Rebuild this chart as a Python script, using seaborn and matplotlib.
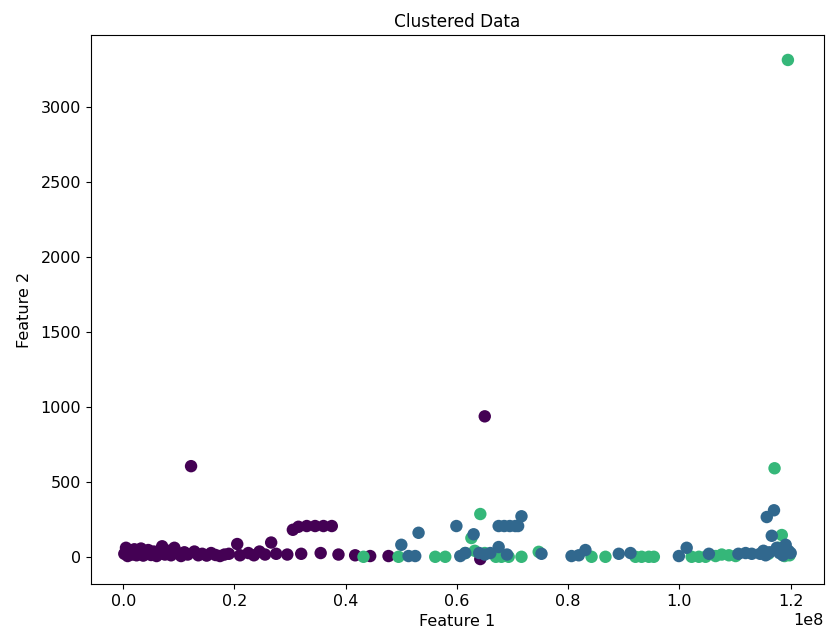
import numpy as np
import pandas as pd
import matplotlib
matplotlib.use("Agg")
import matplotlib.pyplot as plt
import seaborn as sns

# Feature 1 values are in millions (converted to raw units below), Feature 2 raw.
purple_f1 = [0.2, 0.5, 0.8, 1.2, 1.6, 2.0, 2.4, 2.8, 3.2, 3.6, 4.0, 4.5, 5.0, 5.5,
             6.0, 6.5, 7.0, 7.5, 8.0, 8.6, 9.2, 9.8, 10.4, 11.0, 11.6, 12.2, 12.8,
             13.5, 14.2, 15.0, 15.8, 16.6, 17.4, 18.2, 19.0, 20.5, 21.0, 22.5,
             23.5, 24.5, 25.5, 26.6, 27.5, 29.5, 30.5, 31.5, 32.0, 33.0, 34.5,
             35.5, 36.0, 37.5, 38.7, 41.7, 44.4, 47.7, 64.2, 65.0]
purple_f2 = [20, 60, 5, 40, 15, 50, 10, 30, 55, 8, 25, 45, 12, 35,
             5, 20, 70, 15, 40, 10, 60, 25, 5, 30, 15, 604, 35,
             10, 20, 8, 25, 12, 5, 15, 20, 85, 10, 25,
             10, 35, 15, 95, 20, 15, 180, 200, 20, 205, 205,
             25, 205, 205, 15, 10, 5, 5, -15, 936]

blue_f1 = [50.0, 51.3, 52.5, 53.1, 59.9, 60.6, 61.5, 63.0, 64.0, 65.0, 66.0,
           67.5, 67.5, 68.5, 69.5, 70.5, 71.0, 71.6, 69.0, 75.2, 80.6, 81.9,
           83.1, 89.1, 91.2, 99.9, 101.3, 105.3, 110.6, 111.9, 113.0, 114.5,
           115.1, 115.5, 115.7, 116.2, 116.6, 117.0, 117.5, 118.0, 118.6,
           119.1, 119.6, 120.0]
blue_f2 = [80, 5, 5, 160, 205, 5, 25, 150, 25, 15, 25,
           65, 205, 205, 205, 205, 205, 270, 15, 20, 5, 10,
           45, 20, 25, 5, 60, 20, 20, 25, 20, 20,
           40, 10, 265, 30, 140, 310, 60, 25, 10,
           80, 40, 25]

green_f1 = [43.2, 49.5, 56.1, 57.9, 61.5, 62.6, 63.2, 64.2, 65.0, 67.0, 68.0,
            69.3, 71.6, 74.7, 84.2, 86.7, 92.1, 93.2, 94.5, 95.4, 102.2, 103.5,
            104.7, 106.5, 107.6, 108.9, 110.1, 116.0, 117.1, 117.8, 118.4,
            118.9, 119.3, 119.5, 119.8]
green_f2 = [0, 0, 0, 0, 25, 125, 40, 285, 25, 0, 0,
            0, 0, 33, 0, 0, 0, 0, 0, 0, 0, 0,
            0, 5, 15, 10, 5, 20, 590, 60, 145, 5, 30, 3311, 10]

clusters = ["0", "1", "2"]
cluster_colors = ["#440154", "#31688e", "#35b779"]

frames = []
for name, f1, f2 in [("0", purple_f1, purple_f2),
                     ("2", green_f1, green_f2),
                     ("1", blue_f1, blue_f2)]:
    frames.append(pd.DataFrame({"Feature 1": np.array(f1) * 1e6,
                                "Feature 2": f2,
                                "cluster": name}))
df = pd.concat(frames, ignore_index=True)

plt.rcParams["font.family"] = ["DejaVu Sans"]
plt.rcParams["font.size"] = 11.5

fig = plt.figure(figsize=(8.26, 6.37), dpi=100)
ax = fig.add_axes([91 / 826, 1 - 584 / 637, (824 - 91) / 826, (584 - 35) / 637])

sns.scatterplot(data=df, x="Feature 1", y="Feature 2", hue="cluster",
                palette=dict(zip(clusters, cluster_colors)), s=80,
                linewidth=0, alpha=1.0, legend=False, ax=ax)

ax.set_title("Clustered Data", fontsize=12.2)
ax.set_xlabel("Feature 1", fontsize=11.5)
ax.set_ylabel("Feature 2", fontsize=11.5, labelpad=6)
ax.tick_params(labelsize=11.5)

fig.savefig("out.png", dpi=100)
